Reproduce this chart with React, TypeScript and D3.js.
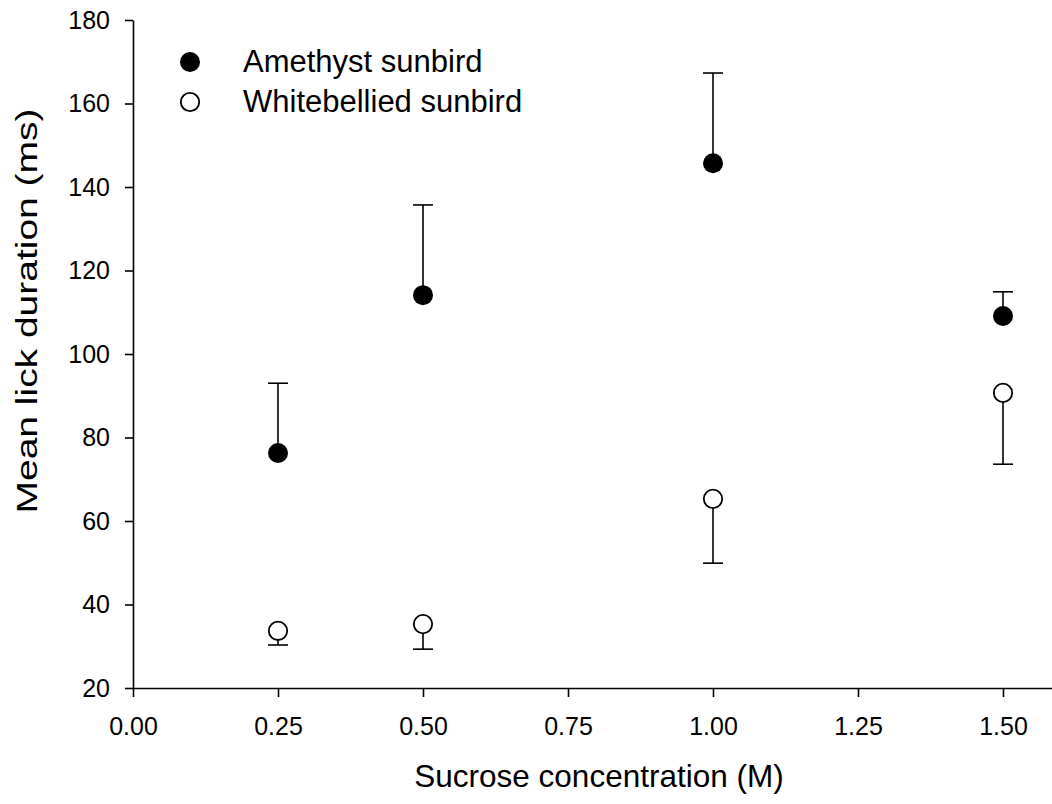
import React, { useEffect, useRef } from 'react'
import * as d3 from 'd3'

// sucrose concentration (M)
const concentrations = [0.25, 0.5, 1.0, 1.5]
// mean lick duration (ms) and the one-sided error bars
const amethystMean = [76.3, 114.1, 145.7, 109.1]
const amethystErr = [16.7, 21.6, 21.6, 5.8]
const whitebelliedMean = [33.7, 35.3, 65.3, 90.7]
const whitebelliedErr = [3.4, 6.0, 15.4, 17.1]

const xTicks = [0, 0.25, 0.5, 0.75, 1.0, 1.25, 1.5]
const yTicks = [20, 40, 60, 80, 100, 120, 140, 160, 180]

const W = 1052
const H = 804
const FONT = 'Liberation Sans, Arial, Helvetica, sans-serif'

export default function App() {
  const ref = useRef<SVGSVGElement>(null)

  useEffect(() => {
    const svg = d3.select(ref.current)
    svg.selectAll('*').remove()

    const x = d3.scaleLinear().domain([0, 1.6]).range([133, 1061])
    const y = d3.scaleLinear().domain([20, 180]).range([688, 20])

    const xAxis = svg.append('g')
      .attr('transform', 'translate(0,688)')
      .call(d3.axisBottom(x).tickValues(xTicks).tickFormat(d3.format('.2f'))
        .tickSize(9).tickSizeOuter(0).tickPadding(20))
    const yAxis = svg.append('g')
      .attr('transform', 'translate(133,0)')
      .call(d3.axisLeft(y).tickValues(yTicks).tickFormat(d3.format('d'))
        .tickSize(8).tickSizeOuter(0).tickPadding(15))

    for (const g of [xAxis, yAxis]) {
      g.selectAll('path, line').attr('stroke', '#000').attr('stroke-width', 1.6)
      g.selectAll('text').attr('font-family', FONT).attr('font-size', 25).attr('fill', '#000')
    }

    // error bars: amethyst upwards, whitebellied downwards
    const bars = [
      ...concentrations.map((c, i) => ({ c, from: amethystMean[i], to: amethystMean[i] + amethystErr[i] })),
      ...concentrations.map((c, i) => ({ c, from: whitebelliedMean[i], to: whitebelliedMean[i] - whitebelliedErr[i] }))
    ]
    const eb = svg.append('g').attr('stroke', '#000').attr('stroke-width', 1.6)
    eb.selectAll('line.v').data(bars).enter().append('line')
      .attr('x1', d => x(d.c)).attr('x2', d => x(d.c))
      .attr('y1', d => y(d.from)).attr('y2', d => y(d.to))
    eb.selectAll('line.cap').data(bars).enter().append('line')
      .attr('x1', d => x(d.c) - 10).attr('x2', d => x(d.c) + 10)
      .attr('y1', d => y(d.to)).attr('y2', d => y(d.to))

    svg.append('g').selectAll('circle').data(concentrations).enter().append('circle')
      .attr('cx', d => x(d)).attr('cy', (_, i) => y(amethystMean[i]))
      .attr('r', 10).attr('fill', '#000')
    svg.append('g').selectAll('circle').data(concentrations).enter().append('circle')
      .attr('cx', d => x(d)).attr('cy', (_, i) => y(whitebelliedMean[i]))
      .attr('r', 9.2).attr('fill', '#fff').attr('stroke', '#000').attr('stroke-width', 1.8)

    // legend
    const legend = [
      { label: 'Amethyst sunbird', filled: true },
      { label: 'Whitebellied sunbird', filled: false }
    ]
    const lg = svg.append('g')
    legend.forEach((d, i) => {
      lg.append('circle').attr('cx', 190).attr('cy', 62 + i * 40)
        .attr('r', d.filled ? 10 : 9.2)
        .attr('fill', d.filled ? '#000' : '#fff')
        .attr('stroke', '#000').attr('stroke-width', d.filled ? 0 : 1.8)
      lg.append('text').attr('x', 243).attr('y', 72 + i * 40)
        .attr('font-family', FONT).attr('font-size', 31).text(d.label)
    })

    svg.append('text')
      .attr('x', 599).attr('y', 787)
      .attr('text-anchor', 'middle')
      .attr('font-family', FONT).attr('font-size', 31.5)
      .text('Sucrose concentration (M)')
    svg.append('text')
      .attr('transform', 'translate(37,311) rotate(-90)')
      .attr('text-anchor', 'middle')
      .attr('font-family', FONT).attr('font-size', 30)
      .attr('textLength', 405).attr('lengthAdjust', 'spacingAndGlyphs')
      .text('Mean lick duration (ms)')
  }, [])

  return (
    <svg ref={ref} width={W} height={H}
      style={{ position: 'absolute', left: 0, top: 0, background: '#fff' }} />
  )
}
